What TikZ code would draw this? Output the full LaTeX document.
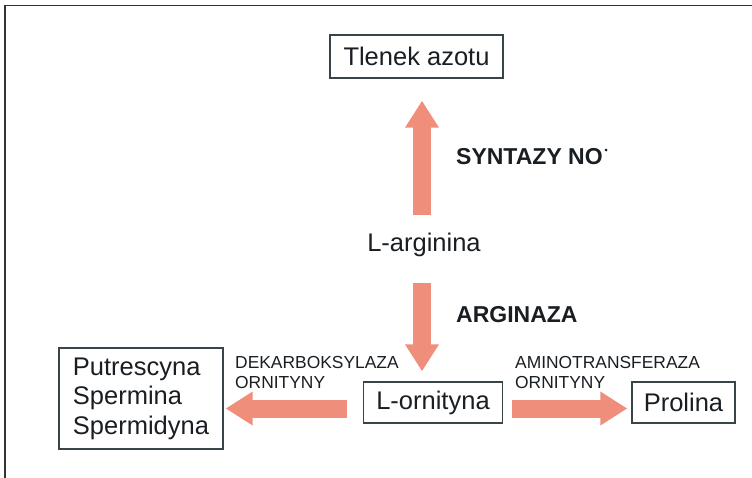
\documentclass[tikz,border=0pt]{standalone}
\usepackage{fontspec}
\setmainfont{Liberation Sans}
\usepackage{tikz}
\usetikzlibrary{arrows.meta}
\definecolor{arrowpink}{RGB}{239,142,122}
\definecolor{boxline}{RGB}{55,68,72}
\definecolor{inktext}{RGB}{25,30,35}
\tikzset{
    substrate/.style={draw=boxline, line width=1.3pt, text=inktext, inner sep=0pt,
        font=\fontsize{25.5}{29.5}\selectfont},
    plain/.style={text=inktext, inner sep=0pt, font=\fontsize{25.5}{29.5}\selectfont},
    enzyme/.style={text=inktext, anchor=west, inner sep=0pt,
        font=\bfseries\fontsize{23}{27}\selectfont},
    enzymesmall/.style={text=inktext, anchor=west, align=left, inner sep=0pt,
        font=\fontsize{17.4}{20}\selectfont},
    flow/.style={draw=arrowpink, line width=18pt, -{Triangle[width=32pt,length=27pt]}}
}

\begin{document}
\begin{tikzpicture}[x=1pt,y=-1pt]
    \useasboundingbox (0,0) rectangle (752,478);
    % 	frame, cut off on the right and at the bottom
        \draw [black!80, line width=1.5pt] (5,478) -- (5,5.7) -- (752,5.7);
        \node [substrate, minimum width=173pt, minimum height=43pt] (tlenek) at (416.5,56.5) {Tlenek azotu};
        \node [plain] (arginina) at (424,245) {L-arginina};
        \node [substrate, minimum width=139pt, minimum height=41pt] (ornityna) at (433,402.5) {L-ornityna};
        \node [substrate, minimum width=103pt, minimum height=41pt] (prolina) at (683.5,402.5) {Prolina};
        \node [substrate, minimum width=164pt, minimum height=101pt, align=left] (poliaminy) at (141,398.5) {Putrescyna\\Spermina\\Spermidyna};
    % 	arrows
        \draw [flow] ([xshift=-2pt,yshift=30pt]arginina.center) -- ([xshift=5.5pt,yshift=-22pt]tlenek.south);
        \draw [flow] ([xshift=-2pt,yshift=-38pt]arginina.center) -- ([xshift=-11pt,yshift=10pt]ornityna.north);
        \draw [flow] ([xshift=-16pt,yshift=-6pt]ornityna.west) -- ([xshift=2pt,yshift=-10pt]poliaminy.east);
        \draw [flow] ([xshift=9pt,yshift=-6pt]ornityna.east) -- ([xshift=-4pt,yshift=-6pt]prolina.west);
    % 	enzymes
        \node [enzyme] (syntazy) at (456,157) {SYNTAZY NO\kern2pt\raisebox{0.5em}{\fontsize{9}{9}\selectfont •}};
        \node [enzyme] (arginaza) at (456,315) {ARGINAZA};
        \node [enzymesmall] (dekarboksylaza) at (235,373) {DEKARBOKSYLAZA\\ORNITYNY};
        \node [enzymesmall] (aminotransferaza) at (515,373) {AMINOTRANSFERAZA\\ORNITYNY};
    \end{tikzpicture}
\end{document}
